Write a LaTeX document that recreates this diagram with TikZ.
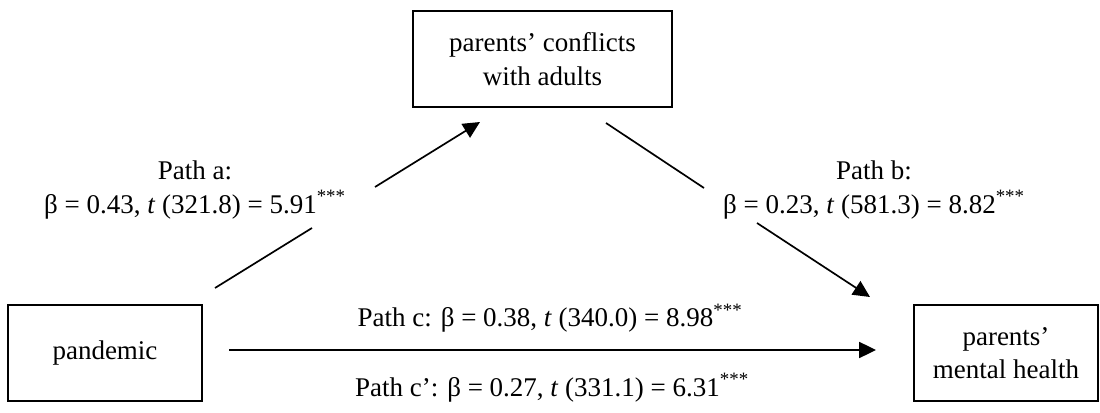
\documentclass[tikz,border=0pt]{standalone}
\usepackage{fontspec}
\setmainfont{Liberation Serif}
\usetikzlibrary{arrows.meta}
\usetikzlibrary{positioning}

\begin{document}
\begin{tikzpicture}[
    box/.style={draw, line width=1.4pt, minimum height=2.4cm, align=center, inner sep=0pt},
    conn/.style={line width=1.2pt},
    arr/.style={conn, -{Triangle[length=4.2mm,width=4mm]}},
    lab/.style={align=center, inner sep=0pt},
    font=\fontsize{19.2}{23.8}\selectfont]
    \useasboundingbox (0,0) rectangle (27.5,10.3);

    % Draw the three boxes
    \node[box, minimum width=4.85cm] (pandemic) at (2.625,1.475) {pandemic};
    \node[box, minimum width=6.475cm] (conflicts) at (13.5625,8.825) {parents' conflicts\\with adults};
    \node[box, minimum width=4.6cm] (health) at (25.15,1.475) {parents'\\mental health};

    % Path a (broken round its label)
    \coordinate (a1) at (5.375,3.1);
    \coordinate (a2) at (7.8,4.6);
    \coordinate (a3) at (9.375,5.625);
    \coordinate (a4) at (12.0,7.25);
    \draw[conn] (a1) -- (a2);
    \draw[arr] (a3) -- (a4);
    \node[lab] (labA) at (4.875,5.55) {Path a:\\β = 0.43, \textit{t} (321.8) = 5.91\textsuperscript{***}};

    % Path b
    \coordinate (b1) at (15.15,7.225);
    \coordinate (b2) at (17.6,5.6);
    \coordinate (b3) at (18.925,4.725);
    \coordinate (b4) at (21.75,2.875);
    \draw[conn] (b1) -- (b2);
    \draw[arr] (b3) -- (b4);
    \node[lab] (labB) at (21.85,5.55) {Path b:\\β = 0.23, \textit{t} (581.3) = 8.82\textsuperscript{***}};

    % Path c and c'
    \coordinate (c1) at (5.725,1.55);
    \coordinate (c2) at (21.9,1.55);
    \draw[arr] (c1) -- (c2);
    \node[lab, anchor=base] (labC) at (13.75,2.125) {Path c: β = 0.38, \textit{t} (340.0) = 8.98\textsuperscript{***}};
    \node[lab, anchor=base] (labCp) at (13.8,0.4) {Path c': β = 0.27, \textit{t} (331.1) = 6.31\textsuperscript{***}};
\end{tikzpicture}
\end{document}
